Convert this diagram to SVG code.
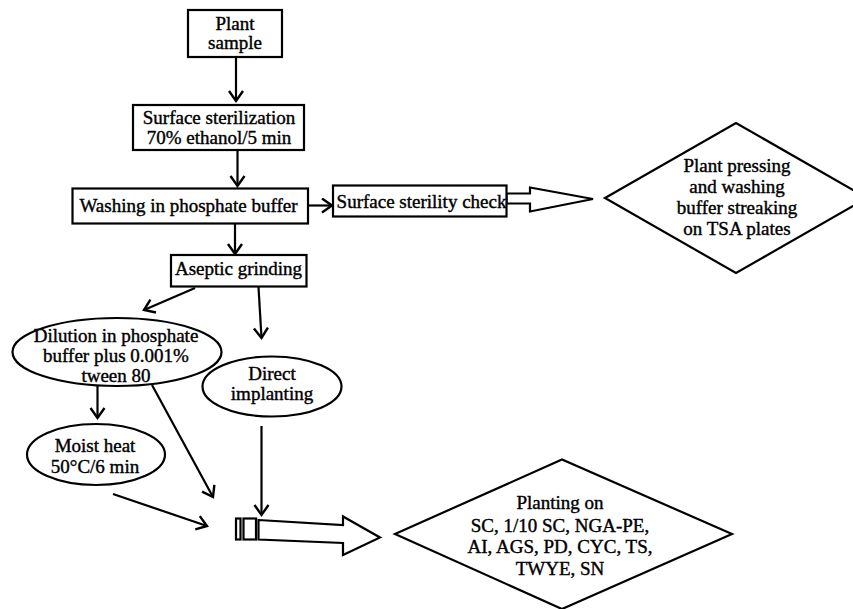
<svg xmlns="http://www.w3.org/2000/svg" width="853" height="609" viewBox="0 0 853 609">
<style>
.box{fill:#fff;stroke:#000;stroke-width:2.2}
.ln{fill:none;stroke:#000;stroke-width:2.2}
.blk{fill:#fff;stroke:#000;stroke-width:2.2;stroke-linejoin:miter}
text{font-family:"Liberation Serif","Times New Roman",serif;font-size:19px;fill:#000;stroke:#000;stroke-width:0.4;text-anchor:middle}
</style>
<defs>
<marker id="v" markerUnits="userSpaceOnUse" markerWidth="14" markerHeight="18" refX="11" refY="8" orient="auto" viewBox="0 0 14 18">
<path d="M1,1 L11,8 L1,15" fill="none" stroke="#000" stroke-width="2.4"/>
</marker>
</defs>
<rect width="853" height="609" fill="#fff"/>

<g id="connectors">
<line class="ln" x1="236" y1="57" x2="236" y2="101" marker-end="url(#v)"/>
<line class="ln" x1="237.5" y1="150" x2="237.5" y2="186" marker-end="url(#v)"/>
<line class="ln" x1="308" y1="205.5" x2="332" y2="205.5" marker-end="url(#v)"/>
<line class="ln" x1="235" y1="223.5" x2="235" y2="254" marker-end="url(#v)"/>
<line class="ln" x1="195" y1="288" x2="144" y2="310" marker-end="url(#v)"/>
<line class="ln" x1="258.5" y1="287" x2="261.5" y2="338" marker-end="url(#v)"/>
<line class="ln" x1="97.5" y1="386" x2="97.5" y2="418" marker-end="url(#v)"/>
<line class="ln" x1="152" y1="385" x2="213" y2="497" marker-end="url(#v)"/>
<line class="ln" x1="113" y1="494" x2="207" y2="526" marker-end="url(#v)"/>
<line class="ln" x1="261.5" y1="426" x2="261.5" y2="515" marker-end="url(#v)"/>
<polygon class="blk" points="506.5,193.5 530,193.5 530,187.5 593,199 530,211.5 530,203.5 506.5,203.5"/>
<rect class="box" x="236" y="518.5" width="4.5" height="21"/>
<rect class="box" x="243.5" y="518.5" width="12.5" height="21"/>
<polygon class="blk" points="258.5,520 343,525 343,516.5 380,537.5 343,555 343,543 258.5,539.5"/>
</g>

<g id="plant-sample">
<rect class="box" x="188" y="10" width="94" height="47"/>
<text x="235" y="29.5">Plant</text>
<text x="235" y="48.5">sample</text>
</g>

<g id="surface-sterilization">
<rect class="box" x="133" y="105" width="171" height="45"/>
<text x="219" y="123.5">Surface sterilization</text>
<text x="219" y="143.5">70% ethanol/5 min</text>
</g>

<g id="washing">
<rect class="box" x="72.5" y="188.5" width="235.5" height="35"/>
<text x="188.5" y="212">Washing in phosphate buffer</text>
</g>

<g id="sterility-check">
<rect class="box" x="333" y="185.5" width="173.5" height="31"/>
<text x="421.5" y="208">Surface sterility check</text>
</g>

<g id="plant-pressing">
<polygon class="box" points="605,198 736,123 867,198 736,273"/>
<text x="737" y="172">Plant pressing</text>
<text x="737" y="192.5">and washing</text>
<text x="737" y="213.5">buffer streaking</text>
<text x="737" y="235">on TSA plates</text>
</g>

<g id="aseptic-grinding">
<rect class="box" x="171" y="255" width="135.5" height="31.5"/>
<text x="238.5" y="275">Aseptic grinding</text>
</g>

<g id="dilution">
<ellipse class="box" cx="117" cy="352" rx="104.5" ry="34"/>
<text x="116" y="341.5">Dilution in phosphate</text>
<text x="116" y="361.5">buffer plus 0.001%</text>
<text x="116" y="381.5">tween 80</text>
</g>

<g id="direct-implanting">
<ellipse class="box" cx="272" cy="386.5" rx="69.5" ry="30"/>
<text x="272" y="380">Direct</text>
<text x="272" y="400">implanting</text>
</g>

<g id="moist-heat">
<ellipse class="box" cx="96" cy="454.5" rx="69" ry="30.5"/>
<text x="95" y="451.5">Moist heat</text>
<text x="95" y="472.5">50°C/6 min</text>
</g>

<g id="planting">
<polygon class="box" points="395,534 562,459.5 732,534 562,609"/>
<text x="560" y="508.5">Planting on</text>
<text x="560" y="531.5">SC, 1/10 SC, NGA-PE,</text>
<text x="560" y="553">AI, AGS, PD, CYC, TS,</text>
<text x="560" y="574.5">TWYE, SN</text>
</g>
</svg>
